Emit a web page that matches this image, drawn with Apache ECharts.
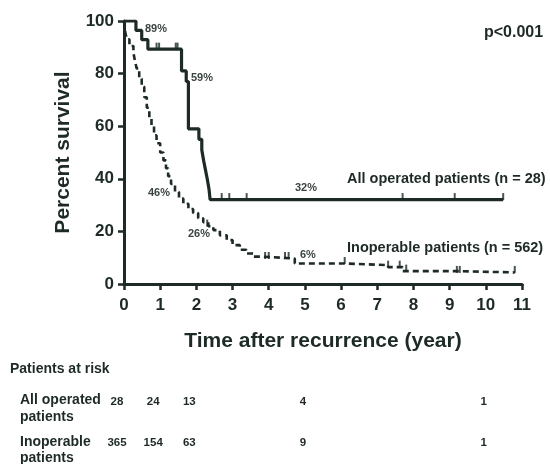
<!DOCTYPE html>
<html><head><meta charset="utf-8">
<script src="https://cdn.jsdelivr.net/npm/echarts@6/dist/echarts.min.js"></script>
<style>html,body{margin:0;padding:0;background:#fff}#c{width:550px;height:464px}</style>
</head><body><div id="c"></div>
<script>
// ---- data ----
const xTickLabels = ['0','1','2','3','4','5','6','7','8','9','10','11'];
const yTickLabels = ['0','20','40','60','80','100'];
const operated = [[0,100],[0.33,96.4],[0.49,92.9],[0.66,89.3],[1.59,81],[1.72,77],[1.78,59],[2.07,55],[2.15,51],[2.2,47],[2.25,43.5],[2.3,40],[2.35,36],[2.38,32.1],[10.48,32.1]];
const operatedCensor = [[0.9,89.3],[0.97,89.3],[1.43,89.3],[1.48,89.3],[2.7,32.1],[2.91,32.1],[3.39,32.1],[7.7,32.1],[9.14,32.1],[10.48,32.1]];
const inoperable = [[0,100],[0.03,96],[0.08,93],[0.15,90.5],[0.26,88],[0.3,85],[0.35,82],[0.42,78],[0.49,75],[0.56,71],[0.63,67],[0.7,63],[0.76,60],[0.83,56.5],[0.9,53.5],[1.0,50],[1.09,47],[1.16,44],[1.22,41],[1.3,38],[1.41,35],[1.52,32.5],[1.64,30.5],[1.78,28.5],[1.91,27],[2.05,25],[2.19,23.5],[2.33,22],[2.47,20.5],[2.65,18.5],[2.84,16.7],[3.0,14.8],[3.2,13],[3.38,11.6],[3.57,10.4],[3.85,9.7],[4.72,7.8],[6.1,7.2],[7.3,6.4],[7.7,4.9],[9.2,4.4],[10.8,4.4]];
const inoperableCensor = [[2.3,22],[3.9,9.7],[4.0,9.7],[4.45,9.7],[4.55,9.7],[6.1,7.8],[7.3,6.4],[7.62,6.4],[7.8,4.9],[9.2,4.4],[9.28,4.4],[10.8,4.4]];
const seriesNames = ['All operated patients (n = 28)','Inoperable patients (n = 562)'];
const pctLabels = ['89%','59%','46%','26%','32%','6%'];
const riskTimes = [0,1,2,5,10];
const riskOperated = ['28','24','13','4','1'];
const riskInoperable = ['365','154','63','9','1'];
const riskRowNames = [['All operated','patients'],['Inoperable','patients']];

const INK = '#1d2a25';
const FONT = '"Liberation Sans", Arial, sans-serif';
const chart = echarts.init(document.getElementById('c'), null, {renderer:'canvas'});
chart.setOption({
  animation:false,
  backgroundColor:'#fff',
  grid:{left:124, top:21, right:28, bottom:180},
  xAxis:{type:'value', min:0, max:11, interval:1,
    name:'Time after recurrence (year)', nameLocation:'middle', nameGap:47,
    nameTextStyle:{fontFamily:FONT, fontWeight:'bold', fontSize:21, color:INK},
    axisLine:{lineStyle:{color:INK, width:3}},
    axisTick:{length:6, lineStyle:{color:INK, width:2.5}},
    axisLabel:{margin:13, fontFamily:FONT, fontWeight:'bold', fontSize:17, color:INK,
      formatter:(v)=>xTickLabels[Math.round(v)]},
    splitLine:{show:false}},
  yAxis:{type:'value', min:0, max:100, interval:20,
    name:'Percent survival', nameLocation:'middle', nameGap:50, nameRotate:90,
    nameTextStyle:{fontFamily:FONT, fontWeight:'bold', fontSize:21, color:INK},
    axisLine:{show:true, lineStyle:{color:INK, width:3}},
    axisTick:{show:true, length:6, lineStyle:{color:INK, width:2.5}},
    axisLabel:{margin:10, fontFamily:FONT, fontWeight:'bold', fontSize:17, color:INK,
      formatter:(v)=>yTickLabels[Math.round(v/20)]},
    splitLine:{show:false}},
  series:[
    {name:seriesNames[0], type:'line', step:'end', data:operated, symbol:'none',
      lineStyle:{color:INK, width:3.2}, z:3},
    {name:seriesNames[1], type:'line', step:'end', data:inoperable, symbol:'none',
      lineStyle:{color:INK, width:2.6, type:[6,4]}, z:2},
    {type:'scatter', data:operatedCensor, symbol:'rect', symbolSize:[2,7], symbolOffset:[0,-3],
      itemStyle:{color:INK}, z:4},
    {type:'scatter', data:inoperableCensor, symbol:'rect', symbolSize:[2,7], symbolOffset:[0,-3],
      itemStyle:{color:INK}, z:4}
  ]
});

function txt(text, x, y, size, opts){
  return Object.assign({type:'text', x:x, y:y, style:Object.assign({text:text, fill:INK,
    font:'bold '+size+'px '+FONT, textAlign:'left', textVerticalAlign:'middle'}, opts||{})});
}
const g = [];
g.push(txt('p<0.001', 484, 33, 16));
g.push(txt(seriesNames[0], 347, 179, 14.5));
g.push(txt(seriesNames[1], 347, 248, 14.5));
const pctPos = [[145,29],[191,78],[148,193],[188,234],[295,188],[300,255]];
pctLabels.forEach((t,i)=>g.push(txt(t, pctPos[i][0], pctPos[i][1], 11, {fill:'#3a4440'})));
g.push(txt('Patients at risk', 10, 369, 14));
g.push(txt(riskRowNames[0][0], 20, 400, 14));
g.push(txt(riskRowNames[0][1], 20, 417, 14));
g.push(txt(riskRowNames[1][0], 20, 442, 14));
g.push(txt(riskRowNames[1][1], 20, 458, 14));
riskTimes.forEach((t,i)=>{
  const px = chart.convertToPixel({gridIndex:0},[t,0])[0] - (t<3 ? 7 : 2);
  g.push(txt(riskOperated[i], px, 402, 11.5, {textAlign:'center'}));
  g.push(txt(riskInoperable[i], px, 443, 11.5, {textAlign:'center'}));
});
chart.setOption({graphic:g});
</script>
</body></html>
